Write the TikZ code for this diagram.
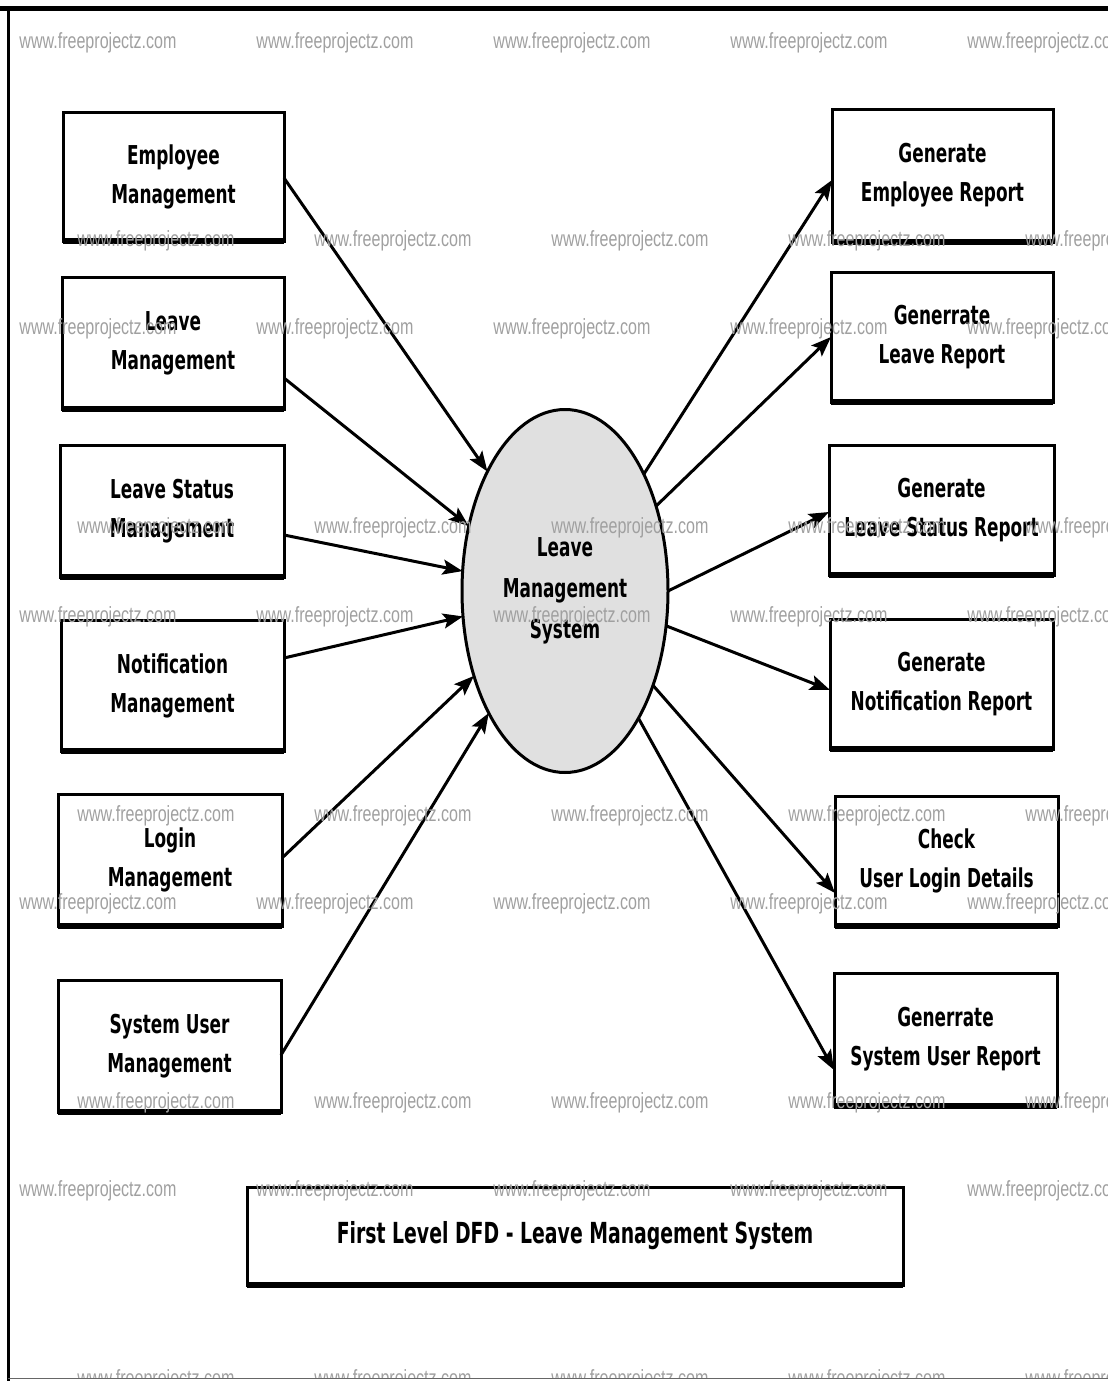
\documentclass[tikz,border=0pt]{standalone}
\usepackage{fontspec}
\newfontfamily\lblfont{DejaVu Sans}[FakeStretch=0.65]
\newfontfamily\wmfont{Liberation Sans}[FakeStretch=0.73]
\usetikzlibrary{arrows.meta,shapes.geometric}
\definecolor{bubble}{RGB}{224,224,224}
\definecolor{wmgray}{RGB}{160,160,160}
\tikzset{
  boxst/.style={draw=black, line width=3pt, inner sep=0pt, outer sep=0pt, align=center,
    font=\lblfont\bfseries\fontsize{26}{39}\selectfont},
  flow/.style={line width=3pt, -{Stealth[length=20pt,width=15pt,inset=4pt]}},
  wm/.style={text=wmgray, font=\wmfont\fontsize{22}{22}\selectfont, inner sep=0pt},
}
\begin{document}
\begin{tikzpicture}[x=1pt,y=-1pt]
\useasboundingbox (0,0) rectangle (1108,1381);
% frame
\draw[line width=5pt] (0,8.5) -- (1108,8.5);
\draw[line width=3pt] (8.5,7) -- (8.5,1381);
\draw[line width=1.5pt, black!60] (8,1378.5) -- (1108,1378.5);
% central process
\node[ellipse, draw=black, line width=3pt, fill=bubble, minimum width=206pt, minimum height=363pt,
  inner sep=0pt, outer sep=0pt, align=center, font=\lblfont\bfseries\fontsize{26}{41}\selectfont]
  (lms) at (565,591) {Leave\\Management\\System};
% left boxes
\node[boxst, minimum width=221pt, minimum height=129pt] (emp) at (173.5,176.5) {Employee\\Management};
\node[boxst, minimum width=222pt, minimum height=132pt] (lvm) at (173,343) {Leave\\Management};
\node[boxst, minimum width=224pt, minimum height=132pt] (lsm) at (172,511) {Leave Status\\Management};
\node[boxst, minimum width=223pt, minimum height=131pt] (ntm) at (172.5,685.5) {Notification\\Management};
\node[boxst, minimum width=224pt, minimum height=132pt] (lgm) at (170,860) {Login\\Management};
\node[boxst, minimum width=223pt, minimum height=132pt] (sum) at (169.5,1046) {System User\\Management};
% right boxes
\node[boxst, minimum width=221pt, minimum height=133pt] (ger) at (942.5,175.5) {Generate\\Employee Report};
\node[boxst, minimum width=222pt, minimum height=130pt] (glr) at (942,337) {Generrate\\Leave Report};
\node[boxst, minimum width=225pt, minimum height=130pt] (gsr) at (941.5,510) {Generate\\Leave Status Report};
\node[boxst, minimum width=223pt, minimum height=130pt] (gnr) at (941.5,684) {Generate\\Notification Report};
\node[boxst, minimum width=223pt, minimum height=130pt] (cul) at (946.5,861) {Check\\User Login Details};
\node[boxst, minimum width=223pt, minimum height=133pt] (gur) at (945.5,1039.5) {Generrate\\System User Report};
% title
\node[boxst, minimum width=656pt, minimum height=98pt, font=\lblfont\bfseries\fontsize{29}{35}\selectfont]
  (title) at (575,1236) {First Level DFD - Leave Management System};
% thicker bottom edges
\foreach \n in {emp,lvm,lsm,ntm,lgm,sum,ger,glr,gsr,gnr,cul,gur,title}
  \draw[line width=6pt] (\n.south west) -- (\n.south east);
% incoming flows
\draw[flow] ([yshift=-1.5pt]emp.east) -- (lms.123.6);
\draw[flow] ([yshift=-35pt]lvm.east) -- (lms.146.6);
\draw[flow] ([yshift=-24pt]lsm.east) -- (lms.169);
\draw[flow] ([yshift=27.5pt]ntm.east) -- (lms.194);
\draw[flow] ([yshift=2pt]lgm.east) -- (lms.223);
\draw[flow] ([yshift=-9pt]sum.east) -- (lms.238);
% outgoing flows
\draw[flow] (lms.56.5) -- ([yshift=-4.5pt]ger.west);
\draw[flow] (lms.43.7) -- (glr.west);
\draw[flow] (lms.0.5) -- ([yshift=-2pt]gsr.west);
\draw[flow] (lms.-19.8) -- ([yshift=-6pt]gnr.west);
\draw[flow] (lms.-47.7) -- ([yshift=-32pt]cul.west);
\draw[flow] (lms.-60.8) -- ([yshift=-30.5pt]gur.west);
% watermarks
\begin{scope}
\clip (10,11) rectangle (1108,1377);
\foreach \y in {43,329,617,904,1191}
  \foreach \x [count=\i] in {98,335,572,809,1046}
    \node[wm] (wa\i\y) at (\x,\y) {www.freeprojectz.com};
\foreach \y in {241,528,816,1103,1380}
  \foreach \x [count=\i] in {156,393,630,867,1104}
    \node[wm] (wb\i\y) at (\x,\y) {www.freeprojectz.com};
\end{scope}
\end{tikzpicture}
\end{document}
